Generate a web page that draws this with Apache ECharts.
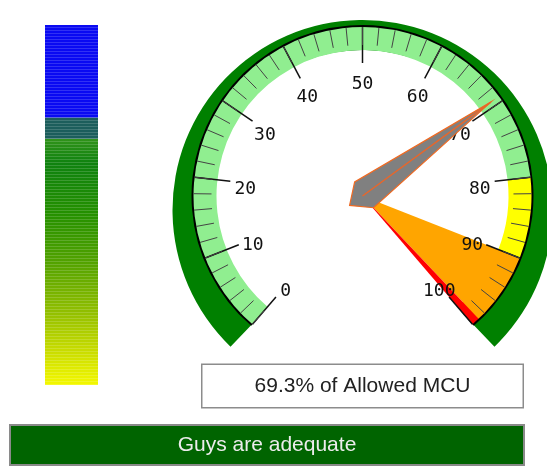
<!DOCTYPE html>
<html>
<head>
<meta charset="utf-8">
<script src="https://cdn.jsdelivr.net/npm/echarts@6/dist/echarts.min.js"></script>
<style>
html, body { margin: 0; padding: 0; background: #fff; }
#chart { width: 547px; height: 468px; }
</style>
</head>
<body>
<div id="chart"></div>
<script>
// values
var mcuPercent = 69.3;
var scaleMin = 0;
var scaleMax = 100;
var bandLimits = [80, 90, 99, 100];
var bandColors = ['#90EE90', '#FFFF00', '#FFA500', '#FF0000'];
var levelNames = ['fill', 'marker', 'empty'];
var levelValues = [68.4, 5.9, 25.7];
var statusText = 'Guys are adequate';

var startAngle = 229.4;
var endAngle = -49.4;
var center = [362.5, 196];
var sweep = startAngle - endAngle;
var fullTurn = (scaleMax - scaleMin) * 360 / sweep;   // scale units in 360 deg

var chart = echarts.init(document.getElementById('chart'));

// needle outline: [radius px, angle deg] relative to the pivot
var needleShape = [[159, 0], [16.1, 83], [16, 180], [16.1, -83]];
function degToUnits(d) {
	return d * (scaleMax - scaleMin) / sweep;
}

function renderNeedle(params, api) {
	var v = api.value(0);
	var pts = needleShape.map(function (p) {
		return api.coord([p[0], v + degToUnits(p[1])]);
	});
	var c = api.coord([0, v]);
	var tip = api.coord([needleShape[0][0], v]);
	return {
		type: 'group',
		children: [
			{
				type: 'polygon',
				shape: { points: pts },
				style: { fill: '#808080', stroke: '#F06A22', lineWidth: 1.2 }
			},
			{
				type: 'line',
				shape: { x1: c[0], y1: c[1], x2: tip[0], y2: tip[1] },
				style: { stroke: '#E8662A', lineWidth: 1.5 }
			}
		]
	};
}

var fillGradient = new echarts.graphic.LinearGradient(0, 0, 0, 1, [
	{ offset: 0, color: '#31931A' },
	{ offset: 0.1, color: '#0F820F' },
	{ offset: 0.3, color: '#249000' },
	{ offset: 0.5, color: '#52A200' },
	{ offset: 0.7, color: '#90BE00' },
	{ offset: 0.86, color: '#C8DC00' },
	{ offset: 1, color: '#F4F800' }
]);
var levelColors = [fillGradient, '#1C5E5C', '#0A0AF2'];

var stripes = {
	symbol: 'rect',
	symbolSize: 1,
	dashArrayX: [1, 0],
	dashArrayY: [1, 2],
	color: 'rgba(255,255,255,0.16)'
};

var gaugeBase = {
	type: 'gauge',
	z: 1,
	center: center,
	startAngle: startAngle,
	endAngle: endAngle,
	min: scaleMin,
	max: scaleMax,
	silent: true,
	pointer: { show: false },
	axisTick: { show: false },
	splitLine: { show: false },
	axisLabel: { show: false },
	title: { show: false },
	detail: { show: false },
	data: []
};

var option = {
	animation: false,
	grid: { left: 45, top: 25, width: 53, height: 360 },
	xAxis: { type: 'category', data: ['MCU'], show: false },
	yAxis: { type: 'value', min: 0, max: 100, show: false },
	polar: { center: center, radius: 171 },
	angleAxis: { type: 'value', startAngle: startAngle, min: scaleMin, max: scaleMin + fullTurn, show: false },
	radiusAxis: { type: 'value', min: 0, max: 171, show: false },
	series: [
		// stacked level bar on the left
		{
			type: 'bar', name: levelNames[0], stack: 'lvl', barWidth: '100%', silent: true,
			data: [levelValues[0]],
			itemStyle: { color: levelColors[0], decal: stripes }
		},
		{
			type: 'bar', name: levelNames[1], stack: 'lvl', barWidth: '100%', silent: true,
			data: [levelValues[1]],
			itemStyle: { color: levelColors[1], decal: stripes }
		},
		{
			type: 'bar', name: levelNames[2], stack: 'lvl', barWidth: '100%', silent: true,
			data: [levelValues[2]],
			itemStyle: { color: levelColors[2], decal: stripes }
		},
		// dark green outer ring (sits a little lower than the scale)
		echarts.util.merge({
			center: [362.5, 210],
			radius: 190,
			startAngle: 226,
			endAngle: -46,
			axisLine: { lineStyle: { width: 30, color: [[1, '#008000']] } }
		}, gaugeBase),
		// coloured band
		echarts.util.merge({
			radius: 170,
			axisLine: { lineStyle: { width: 24, color: [
				[bandLimits[0] / scaleMax, bandColors[0]],
				[bandLimits[1] / scaleMax, bandColors[1]],
				[1, bandColors[2]]
			] } }
		}, gaugeBase),
		// orange / red wedge
		{
			type: 'pie',
			z: 2,
			center: center,
			radius: 170,
			startAngle: startAngle,
			clockwise: true,
			silent: true,
			label: { show: false },
			labelLine: { show: false },
			data: [
				{ value: bandLimits[1] - scaleMin, itemStyle: { color: 'rgba(0,0,0,0)' } },
				{ value: bandLimits[2] - bandLimits[1], itemStyle: { color: bandColors[2] } },
				{ value: bandLimits[3] - bandLimits[2], itemStyle: { color: bandColors[3] } },
				{ value: fullTurn - (scaleMax - scaleMin), itemStyle: { color: 'rgba(0,0,0,0)' } }
			]
		},
		// scale, ticks, labels, readout
		{
			type: 'gauge',
			z: 3,
			center: center,
			radius: 171,
			startAngle: startAngle,
			endAngle: endAngle,
			min: scaleMin,
			max: scaleMax,
			splitNumber: 10,
			silent: true,
			pointer: { show: false },
			axisLine: { lineStyle: { width: 2, color: [[1, '#000']] } },
			splitLine: { length: 36, distance: 0, lineStyle: { color: '#111', width: 1.5 } },
			axisTick: { splitNumber: 5, length: 18, distance: 0, lineStyle: { color: '#444', width: 1 } },
			axisLabel: {
				distance: 17,
				rotate: 0.001,
				formatter: '{v|{value}}',
				rich: {
					v: {
						padding: [12, 0, 0, 0],
						color: '#111',
						fontSize: 18,
						fontFamily: 'DejaVu Sans Mono'
					}
				}
			},
			anchor: { show: false },
			title: { show: false },
			detail: {
				valueAnimation: false,
				formatter: '{value}% of Allowed MCU',
				offsetCenter: [0, 190],
				width: 320,
				height: 42,
				lineHeight: 42,
				padding: 0,
				backgroundColor: '#fff',
				borderColor: '#8C8C8C',
				borderWidth: 1.5,
				color: '#222',
				fontSize: 21,
				fontWeight: 'normal',
				fontFamily: 'Liberation Sans'
			},
			data: [{ value: mcuPercent }]
		},
		// needle
		{
			type: 'custom',
			z: 4,
			coordinateSystem: 'polar',
			silent: true,
			clip: false,
			data: [[mcuPercent]],
			encode: { angle: 0 },
			renderItem: renderNeedle
		}
	],
	graphic: [
		{
			type: 'rect',
			shape: { x: 10, y: 425, width: 514, height: 40 },
			style: { fill: '#006400', stroke: '#8A8A8A', lineWidth: 2 },
			silent: true
		},
		{
			type: 'text',
			x: 267,
			y: 445,
			style: {
				text: statusText,
				fill: '#ECECEC',
				font: '21px "Liberation Sans"',
				align: 'center',
				verticalAlign: 'middle'
			},
			silent: true
		}
	]
};

chart.setOption(option);
</script>
</body>
</html>
